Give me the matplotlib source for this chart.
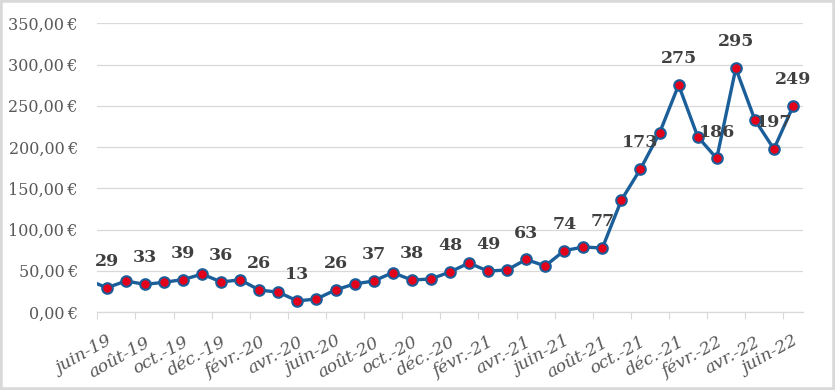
import matplotlib
matplotlib.use("Agg")
import matplotlib.pyplot as plt
import numpy as np
from matplotlib.patches import Rectangle
from matplotlib.transforms import ScaledTranslation

# Month index 0 = juin-19 ... 36 = juin-22 ; index -1 (mai-19) is clipped at the left edge
months = list(range(-1, 37))
values = [39.0,
          29.3, 37.6, 33.5, 36.0, 39.3, 46.0, 36.4, 39.0, 26.6, 24.0,
          13.4, 15.8, 26.8, 34.0, 37.6, 47.7, 38.8, 40.0, 48.5, 59.4,
          49.6, 51.0, 63.7, 55.8, 74.4, 78.8, 77.6, 135.8, 173.4, 217.0,
          275.2, 212.6, 186.2, 295.4, 233.0, 197.6, 249.3]
label_idx = [0, 2, 4, 6, 8, 10, 12, 14, 16, 18, 20, 22, 24, 26, 28, 30, 32, 33, 35, 36]
tick_pos = list(range(0, 37, 2))
tick_labels = ["juin-19", "août-19", "oct.-19", "déc.-19", "févr.-20", "avr.-20",
               "juin-20", "août-20", "oct.-20", "déc.-20", "févr.-21", "avr.-21",
               "juin-21", "août-21", "oct.-21", "déc.-21", "févr.-22", "avr.-22",
               "juin-22"]
y_ticks = [0, 50, 100, 150, 200, 250, 300, 350]

plt.rcParams['font.family'] = ['DejaVu Serif', 'DejaVu Sans']

fig = plt.figure(figsize=(8.35, 3.9), dpi=100)
ax = fig.add_axes([97.3/835, 0.2, (802.5-97.3)/835, (312-23.3)/390])

line_col = '#1A5E9A'
ax.plot(months, values, color=line_col, lw=2.4, marker='o', markersize=7.6,
        markerfacecolor='#E2001A', markeredgecolor=line_col, markeredgewidth=1.5,
        zorder=3, solid_joinstyle='round')

for i in label_idx:
    v = values[i + 1]
    ax.annotate(f"{int(v)}", (i, v), xytext=(0, 19), textcoords='offset points',
                ha='center', va='center', fontsize=12.5, fontweight='bold',
                color='#404040', zorder=4)

ax.set_xlim(-0.5, 36.5)
ax.set_ylim(0, 350)
ax.set_yticks(y_ticks)
ax.set_yticklabels([f"{v:,.2f}".replace('.', ',') + "\u202f€" for v in y_ticks])
ax.tick_params(axis='y', length=0, pad=14, labelsize=11.5, labelcolor='#595959')

ax.set_xticks(tick_pos)
ax.set_xticklabels(tick_labels, rotation=29, ha='right', va='center',
                   rotation_mode='anchor', fontsize=12.5, style='italic', color='#595959')
ax.tick_params(axis='x', which='major', length=0, pad=21)
ax.set_xticks(np.arange(-0.5, 36, 2), minor=True)
ax.tick_params(axis='x', which='minor', length=5, width=0.8, color='#D9D9D9', direction='out')
offset = ScaledTranslation(4/100, 0, fig.dpi_scale_trans)
for lbl in ax.get_xticklabels():
    lbl.set_transform(lbl.get_transform() + offset)

ax.grid(axis='y', color='#D9D9D9', lw=0.9)
ax.set_axisbelow(True)
for s in ['top', 'right', 'left']:
    ax.spines[s].set_visible(False)
ax.spines['bottom'].set_color('#D9D9D9')
ax.spines['bottom'].set_linewidth(0.9)

fig.add_artist(Rectangle((0, 0), 1, 1, transform=fig.transFigure, fill=False,
                         edgecolor='#D9D9D9', lw=4))

fig.savefig("out.png", dpi=100)
